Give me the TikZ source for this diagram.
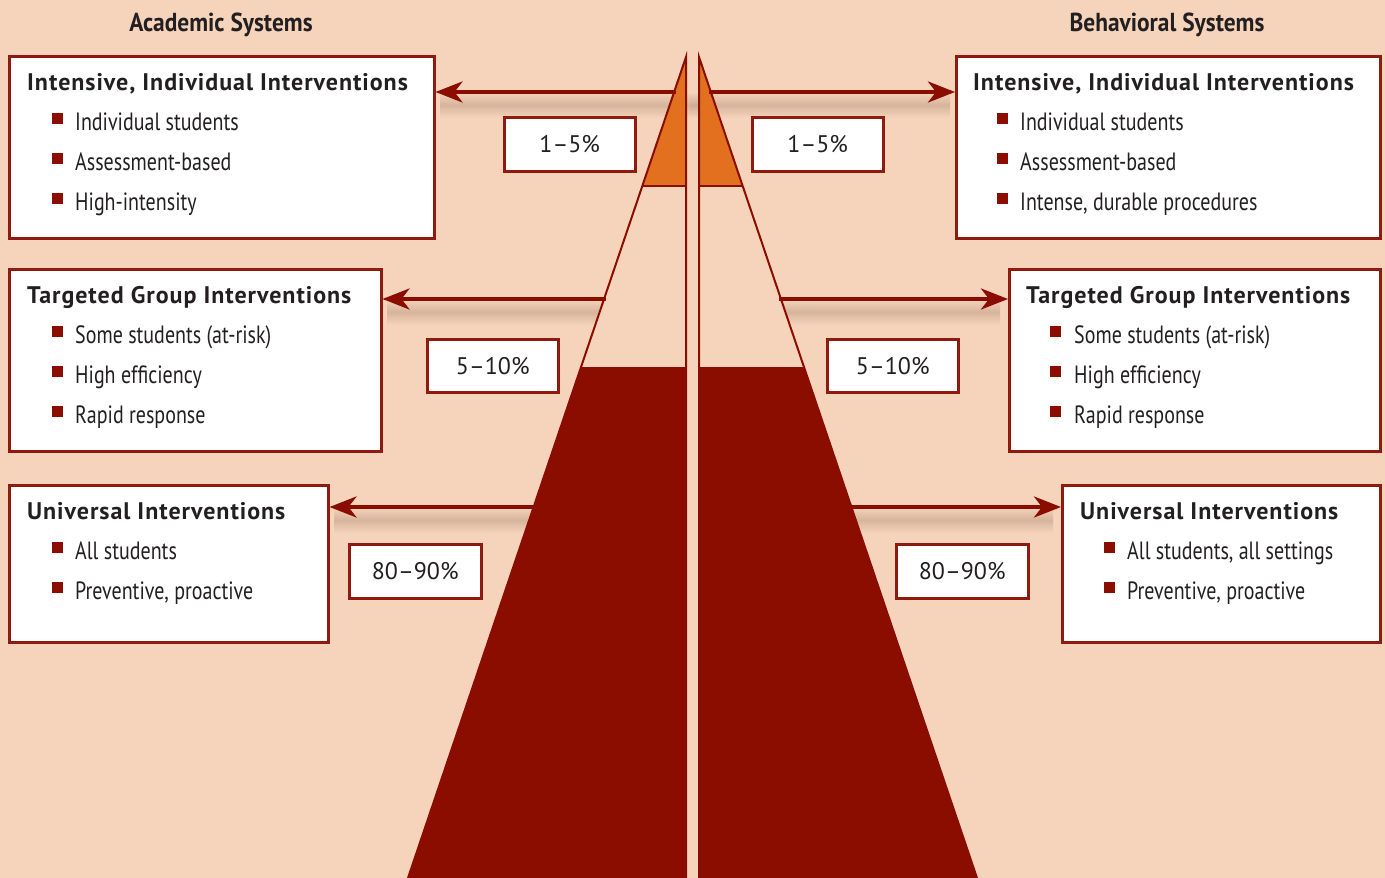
\documentclass[tikz,border=0pt]{standalone}
\usepackage{fontspec}
\setmainfont{PT Sans}
\newfontfamily\condfont{PT Sans}[FakeStretch=0.80]
\newfontfamily\headfont{PT Sans}[FakeStretch=0.90]
\newfontfamily\ttlfont{PT Sans}[LetterSpace=4]
\usetikzlibrary{arrows.meta}
\definecolor{bg}{HTML}{F6D4BC}
\definecolor{dred}{HTML}{8B0D00}
\definecolor{bred}{HTML}{8E1A10}
\definecolor{orng}{HTML}{E3701F}
\definecolor{txt}{HTML}{231F20}
\definecolor{shd}{HTML}{CDAB93}
\tikzset{
  box/.style={draw=bred, line width=2.5pt, fill=white, anchor=north west, inner sep=0pt},
  pct/.style={draw=bred, line width=2.5pt, fill=white, anchor=north west, inner sep=0pt},
  pcttxt/.style={anchor=center, inner sep=0pt, font=\fontsize{24}{24}\selectfont, text=txt},
  ttl/.style={anchor=base west, inner sep=0pt, font=\ttlfont\fontsize{24}{24}\selectfont\bfseries, text=txt},
  itm/.style={anchor=base west, inner sep=0pt, font=\condfont\fontsize{25}{25}\selectfont, text=txt},
  hdr/.style={anchor=base, inner sep=0pt, font=\headfont\fontsize{26}{26}\selectfont\bfseries, text=txt},
  bul/.style={fill=dred, minimum size=11pt, inner sep=0pt, anchor=north west},
  arr/.style={draw=dred, line width=4pt, -{Stealth[length=27pt, width=21pt, inset=8pt]}},
}
\begin{document}
\begin{tikzpicture}[x=1pt, y=-1pt]
\useasboundingbox (0,0) rectangle (1385,878);
\fill[bg] (0,0) rectangle (1385,878);
\begin{scope}
\clip (0,0) rectangle (1385,878);
% shadows under arrows
\foreach \xa/\xb/\yy in {440/700/92, 387/620/299, 334/590/507, 690/950/92, 765/1000/299, 795/1053/507}{
  \shade[top color=bg, bottom color=bg, middle color=shd, opacity=0.75] (\xa,\yy) rectangle (\xb,\yy+26);
}
% left triangle
\fill[bg] (686,57) -- (408,878) -- (686,878) -- cycle;
\fill[orng] (686,57) -- (642.3,186) -- (686,186) -- cycle;
\fill[dred] (581,367) -- (408,878) -- (686,878) -- (686,367) -- cycle;
\draw[dred, line width=2pt] (642.3,186) -- (686,186);
\draw[dred, line width=2pt, line join=miter] (408,878) -- (686,57) -- (686,878);
% right triangle
\fill[bg] (699,57) -- (977,878) -- (699,878) -- cycle;
\fill[orng] (699,57) -- (742.7,186) -- (699,186) -- cycle;
\fill[dred] (804,367) -- (977,878) -- (699,878) -- (699,367) -- cycle;
\draw[dred, line width=2pt] (742.7,186) -- (699,186);
\draw[dred, line width=2pt, line join=miter] (977,878) -- (699,57) -- (699,878);
\end{scope}

% headers
\node[hdr] (hA) at (221,31) {Academic Systems};
\node[hdr] (hB) at (1167,31) {Behavioral Systems};

% left boxes
\node[box, minimum width=425pt, minimum height=182pt] (L1) at (8,55) {};
\node[box, minimum width=372pt, minimum height=182pt] (L2) at (8,268) {};
\node[box, minimum width=319pt, minimum height=157pt] (L3) at (8,484) {};
% right boxes
\node[box, minimum width=424pt, minimum height=182pt] (R1) at (955,55) {};
\node[box, minimum width=371pt, minimum height=182pt] (R2) at (1008,268) {};
\node[box, minimum width=318pt, minimum height=157pt] (R3) at (1061,484) {};

% percentage boxes
\node[pct, minimum width=131pt, minimum height=54pt] (pL1) at (503,116) {};
\node[pct, minimum width=131pt, minimum height=53pt] (pL2) at (426,338) {};
\node[pct, minimum width=132pt, minimum height=54pt] (pL3) at (348,543) {};
\node[pct, minimum width=131pt, minimum height=54pt] (pR1) at (751,116) {};
\node[pct, minimum width=131pt, minimum height=53pt] (pR2) at (826,338) {};
\node[pct, minimum width=132pt, minimum height=54pt] (pR3) at (895,543) {};
\node[pcttxt] (tL1) at (pL1.center) {1–5\%};
\node[pcttxt] (tL2) at (pL2.center) {5–10\%};
\node[pcttxt] (tL3) at (pL3.center) {80–90\%};
\node[pcttxt] (tR1) at (pR1.center) {1–5\%};
\node[pcttxt] (tR2) at (pR2.center) {5–10\%};
\node[pcttxt] (tR3) at (pR3.center) {80–90\%};

% arrows
\coordinate (aL1) at (676,92);
\coordinate (aL2) at (606,299);
\coordinate (aL3) at (577,507);
\coordinate (aR1) at (709,92);
\coordinate (aR2) at (779,299);
\coordinate (aR3) at (851,507);
\draw[arr] (aL1) -- (L1.east |- aL1);
\draw[arr] (aL2) -- (L2.east |- aL2);
\draw[arr] (aL3) -- (L3.east |- aL3);
\draw[arr] (aR1) -- (R1.west |- aR1);
\draw[arr] (aR2) -- (R2.west |- aR2);
\draw[arr] (aR3) -- (R3.west |- aR3);

% left box texts
\node[ttl] (L1t) at (27,90) {Intensive, Individual Interventions};
\node[bul] (L1b1) at (52,113) {}; \node[itm] (L1i1) at (75,130) {Individual students};
\node[bul] (L1b2) at (52,153) {}; \node[itm] (L1i2) at (75,170) {Assessment-based};
\node[bul] (L1b3) at (52,193) {}; \node[itm] (L1i3) at (75,210) {High-intensity};

\node[ttl] (L2t) at (27,303) {Targeted Group Interventions};
\node[bul] (L2b1) at (52,326) {}; \node[itm] (L2i1) at (75,343) {Some students (at-risk)};
\node[bul] (L2b2) at (52,366) {}; \node[itm] (L2i2) at (75,383) {High efficiency};
\node[bul] (L2b3) at (52,406) {}; \node[itm] (L2i3) at (75,423) {Rapid response};

\node[ttl] (L3t) at (27,519) {Universal Interventions};
\node[bul] (L3b1) at (52,542) {}; \node[itm] (L3i1) at (75,559) {All students};
\node[bul] (L3b2) at (52,582) {}; \node[itm] (L3i2) at (75,599) {Preventive, proactive};

% right box texts
\node[ttl] (R1t) at (973,90) {Intensive, Individual Interventions};
\node[bul] (R1b1) at (997,113) {}; \node[itm] (R1i1) at (1020,130) {Individual students};
\node[bul] (R1b2) at (997,153) {}; \node[itm] (R1i2) at (1020,170) {Assessment-based};
\node[bul] (R1b3) at (997,193) {}; \node[itm] (R1i3) at (1020,210) {Intense, durable procedures};

\node[ttl] (R2t) at (1026,303) {Targeted Group Interventions};
\node[bul] (R2b1) at (1050,326) {}; \node[itm] (R2i1) at (1074,343) {Some students (at-risk)};
\node[bul] (R2b2) at (1050,366) {}; \node[itm] (R2i2) at (1074,383) {High efficiency};
\node[bul] (R2b3) at (1050,406) {}; \node[itm] (R2i3) at (1074,423) {Rapid response};

\node[ttl] (R3t) at (1080,519) {Universal Interventions};
\node[bul] (R3b1) at (1104,542) {}; \node[itm] (R3i1) at (1127,559) {All students, all settings};
\node[bul] (R3b2) at (1104,582) {}; \node[itm] (R3i2) at (1127,599) {Preventive, proactive};
\end{tikzpicture}
\end{document}
